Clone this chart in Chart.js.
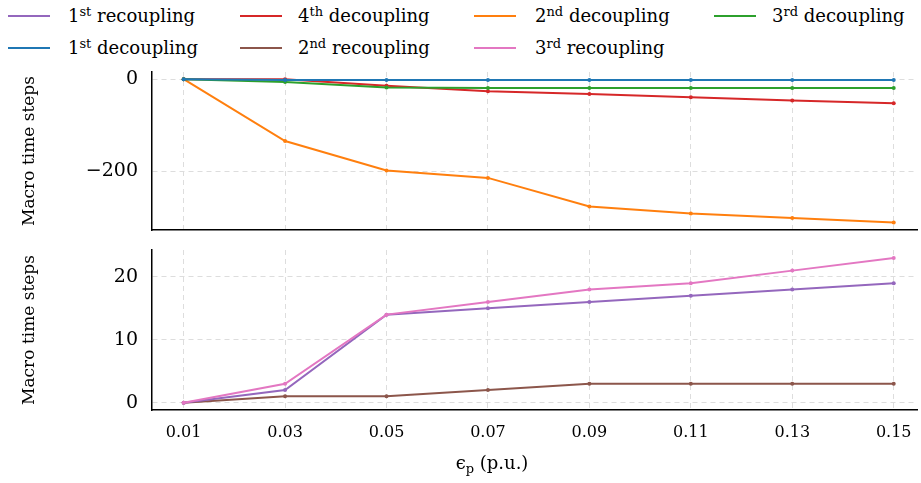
<!DOCTYPE html>
<html>
<head>
<meta charset="utf-8">
<script src="https://cdn.jsdelivr.net/npm/chart.js@4.4.1/dist/chart.umd.min.js"></script>
<style>
body { margin: 0; width: 921px; height: 483px; position: relative; background: #fff; overflow: hidden;
       font-family: "DejaVu Serif", serif; color: #000; }
#topBox { position: absolute; left: 0; top: 62px; width: 921px; height: 172px; }
#botBox { position: absolute; left: 0; top: 240px; width: 921px; height: 243px; }
.swatch { position: absolute; width: 42px; height: 2px; }
.lab { position: absolute; font-size: 18px; line-height: 20px; white-space: nowrap; }
.lab sup { font-size: 13px; vertical-align: 6px; line-height: 0; }
#xtitle { position: absolute; top: 452px; left: 492px; transform: translateX(-50%); font-size: 18px; white-space: nowrap; }
#xtitle sub { font-size: 13px; vertical-align: -4px; line-height: 0; }
</style>
</head>
<body>
<div id="legend"></div>
<div id="topBox"><canvas id="topChart"></canvas></div>
<div id="botBox"><canvas id="botChart"></canvas></div>
<div id="xtitle">&#1013;<sub>p</sub> (p.u.)</div>
<script>
// x values (epsilon_p, p.u.)
var epsP = [0.01, 0.03, 0.05, 0.07, 0.09, 0.11, 0.13, 0.15];

// top panel: decoupling
var dec1 = [0, -2, -2, -2, -2, -2, -2, -2];
var dec2 = [0, -134, -198, -214, -276, -291, -301, -311];
var dec3 = [0, -6, -18, -19, -19, -19, -19, -19];
var dec4 = [0, 0, -14, -26, -32, -39, -46, -52];

// bottom panel: recoupling
var rec1 = [0, 2, 14, 15, 16, 17, 18, 19];
var rec2 = [0, 1, 1, 2, 3, 3, 3, 3];
var rec3 = [0, 3, 14, 16, 18, 19, 21, 23];

var topTicks = [-200, 0];
var botTicks = [0, 10, 20];

var colors = {
    blue: "#1f77b4", orange: "#ff7f0e", green: "#2ca02c", red: "#d62728",
    purple: "#9467bd", brown: "#8c564b", pink: "#e377c2"
};

// legend (column-major, 4 columns)
var legendItems = [
    ["1st recoupling", colors.purple], ["1st decoupling", colors.blue],
    ["4th decoupling", colors.red], ["2nd recoupling", colors.brown],
    ["2nd decoupling", colors.orange], ["3rd recoupling", colors.pink],
    ["3rd decoupling", colors.green]
];
var colLine = [8, 240, 474, 714];
var colText = [68, 298, 535, 772];
var rowY = [16, 48];

var leg = document.getElementById("legend");
legendItems.forEach(function (it, i) {
    var col = Math.floor(i / 2), row = i % 2;
    var sw = document.createElement("div");
    sw.className = "swatch";
    sw.style.left = colLine[col] + "px";
    sw.style.top = (rowY[row] - 1) + "px";
    sw.style.background = it[1];
    leg.appendChild(sw);
    var lb = document.createElement("div");
    lb.className = "lab";
    lb.style.left = colText[col] + "px";
    lb.style.top = (rowY[row] - 10) + "px";
    lb.innerHTML = it[0].replace(/^(\d)(st|nd|rd|th)/, "$1<sup>$2</sup>");
    leg.appendChild(lb);
});

function pts(arr) {
    return arr.map(function (v, i) { return { x: epsP[i], y: v }; });
}

function ds(label, arr, color) {
    return {
        label: label,
        data: pts(arr),
        borderColor: color,
        backgroundColor: color,
        borderWidth: 2,
        pointRadius: 2,
        pointBorderWidth: 0,
        fill: false
    };
}

var fontFam = '"DejaVu Serif", serif';

function xScale(showTicks, h) {
    return {
        type: "linear",
        min: 0.00376,
        max: 0.15459,
        afterBuildTicks: function (s) { s.ticks = epsP.map(function (v) { return { value: v }; }); },
        afterFit: function (s) { s.height = h; s.paddingLeft = 0; s.paddingRight = 0; },
        ticks: {
            display: showTicks,
            color: "#000",
            padding: 13,
            font: { family: fontFam, size: 16 },
            callback: function (v) { return v.toFixed(2); }
        },
        grid: { color: "#dddddd", lineWidth: 1, drawTicks: false },
        border: { display: true, color: "#000", width: 1.5, dash: [5, 4] }
    };
}

function yScale(min, max, ticks) {
    return {
        min: min,
        max: max,
        afterBuildTicks: function (s) { s.ticks = ticks.map(function (v) { return { value: v }; }); },
        afterFit: function (s) { s.width = 152; s.paddingTop = 0; s.paddingBottom = 0; },
        ticks: {
            color: "#000",
            padding: 14,
            font: { family: fontFam, size: 19 },
            callback: function (v) { return v < 0 ? "\u2212" + Math.abs(v) : String(v); }
        },
        grid: { color: "#dddddd", lineWidth: 1, drawTicks: false },
        border: { display: true, color: "#000", width: 1.5, dash: [5, 4] },
        title: {
            display: true,
            text: "Macro time steps",
            color: "#000",
            font: { family: fontFam, size: 17 },
            padding: { top: 19, bottom: 0 }
        }
    };
}

var common = {
    responsive: true,
    maintainAspectRatio: false,
    animation: false,
    layout: { padding: { top: 10, left: 0, right: 0, bottom: 0 } },
    plugins: { legend: { display: false }, tooltip: { enabled: false } }
};

new Chart(document.getElementById("topChart"), {
    type: "line",
    data: {
        datasets: [
            ds("1st decoupling", dec1, colors.blue),
            ds("3rd decoupling", dec3, colors.green),
            ds("4th decoupling", dec4, colors.red),
            ds("2nd decoupling", dec2, colors.orange)
        ]
    },
    options: Object.assign({}, common, {
        scales: { x: xScale(false, 2), y: yScale(-327, 15.6, topTicks) }
    })
});

new Chart(document.getElementById("botChart"), {
    type: "line",
    data: {
        datasets: [
            ds("3rd recoupling", rec3, colors.pink),
            ds("1st recoupling", rec1, colors.purple),
            ds("2nd recoupling", rec2, colors.brown)
        ]
    },
    options: Object.assign({}, common, {
        scales: { x: xScale(true, 73), y: yScale(-1.17, 24.28, botTicks) }
    })
});
</script>
</body>
</html>
